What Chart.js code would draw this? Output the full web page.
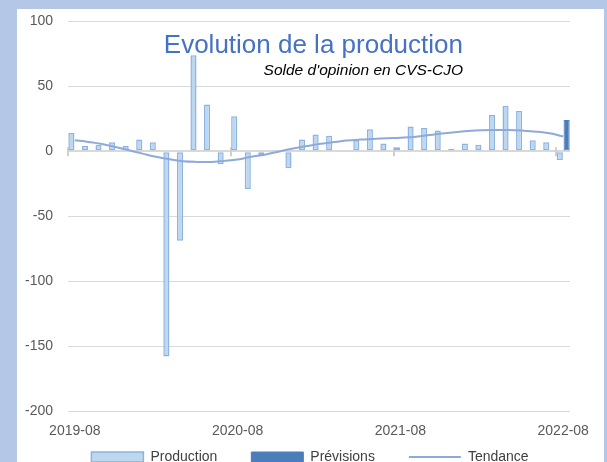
<!DOCTYPE html>
<html lang="fr">
<head>
  <meta charset="UTF-8">
  <title>Evolution de la production</title>
  <script src="https://cdn.jsdelivr.net/npm/chart.js@4.4.0/dist/chart.umd.min.js"></script>
  <style>
    html, body { margin: 0; padding: 0; width: 607px; height: 462px; overflow: hidden; background: #B4C7E7; position: relative; }
    .cadre { position: absolute; left: 17px; top: 9px; width: 587px; height: 460px; background: #fff; }
    #productionChart { position: absolute; left: 2px; top: -2px; }
  </style>
</head>
<body>
  <div class="cadre"></div>
  <canvas id="productionChart" width="608" height="476"></canvas>

  <script>
    // --- Données ---
    const mois = [
      '2019-08', '2019-09', '2019-10', '2019-11', '2019-12',
      '2020-01', '2020-02', '2020-03', '2020-04', '2020-05', '2020-06', '2020-07',
      '2020-08', '2020-09', '2020-10', '2020-11', '2020-12',
      '2021-01', '2021-02', '2021-03', '2021-04', '2021-05', '2021-06', '2021-07',
      '2021-08', '2021-09', '2021-10', '2021-11', '2021-12',
      '2022-01', '2022-02', '2022-03', '2022-04', '2022-05', '2022-06', '2022-07',
      '2022-08'
    ];
    const production = [
      14, 4, 5, 7, 4, 9, 7, -158, -69, 74, 36, -10,
      27, -29, -3, 1, -13, 9, 13, 12, 1, 8.5, 17, 6,
      3, 19, 18, 16, 2, 6, 5, 28, 35, 31, 8.5, 7,
      -7
    ];
    const previsions = [
      null, null, null, null, null, null, null, null, null, null, null, null,
      null, null, null, null, null, null, null, null, null, null, null, null,
      null, null, null, null, null, null, null, null, null, null, null, null,
      24
    ];
    const tendance = [
      8.5, 7.2, 5.6, 3.3, 0.8, -1.8, -4.3, -6.2, -7.7, -8.2, -8.2, -7.4,
      -6.4, -4.3, -2.6, -0.3, 2, 3.8, 5.6, 6.9, 8.2, 9, 9.5, 10,
      10.4, 11, 12.3, 13.6, 14.6, 15.6, 16.2, 16.4, 16.4, 15.9, 15.1, 13.8,
      11.5
    ];
    const ticksY = [-200, -150, -100, -50, 0, 50, 100];
    const titre = 'Evolution de la production';
    const sousTitre = "Solde d'opinion en CVS-CJO";

    Chart.defaults.font.family = "'Liberation Sans', Arial, sans-serif";
    Chart.defaults.animation = false;

    // Titre posé dans la zone du graphique (comme dans Excel)
    const titrePlugin = {
      id: 'titre',
      afterDatasetsDraw(chart) {
        const ctx = chart.ctx;
        ctx.save();
        ctx.textAlign = 'right';
        ctx.textBaseline = 'alphabetic';
        ctx.fillStyle = '#4472C4';
        ctx.font = "26px 'Liberation Sans', Arial, sans-serif";
        ctx.fillText(titre, 461, 55);
        ctx.fillStyle = '#000';
        ctx.font = "italic 15.5px 'Liberation Sans', Arial, sans-serif";
        ctx.fillText(sousTitre, 461, 77);
        ctx.restore();
      }
    };

    // Petites graduations croisant l'axe à zéro, tous les 12 mois
    const graduations = {
      id: 'graduations',
      beforeDatasetsDraw(chart) {
        const x = chart.scales.x, y = chart.scales.y;
        const demi = (x.getPixelForValue(1) - x.getPixelForValue(0)) / 2;
        const y0 = y.getPixelForValue(0);
        const ctx = chart.ctx;
        ctx.save();
        ctx.strokeStyle = '#D0D0D0';
        ctx.lineWidth = 2;
        for (let i = 0; i < mois.length; i += 12) {
          const px = Math.round(x.getPixelForValue(i) - demi);
          ctx.beginPath();
          ctx.moveTo(px, y0 - 4);
          ctx.lineTo(px, y0 + 5);
          ctx.stroke();
        }
        ctx.restore();
      }
    };

    const ctx = document.getElementById('productionChart').getContext('2d');
    new Chart(ctx, {
      type: 'bar',
      data: {
        labels: mois,
        datasets: [
          {
            type: 'bar',
            label: 'Production',
            data: production,
            backgroundColor: '#BDD7EE',
            borderColor: '#8DB3E2',
            borderWidth: 1.5,
            borderSkipped: false,
            barPercentage: 0.9,
            categoryPercentage: 1,
            order: 2
          },
          {
            type: 'bar',
            label: 'Prévisions',
            data: previsions,
            backgroundColor: '#4A7EBB',
            borderColor: '#4A7EBB',
            borderWidth: 1,
            borderSkipped: false,
            barPercentage: 0.9,
            categoryPercentage: 1,
            order: 2
          },
          {
            type: 'line',
            label: 'Tendance',
            data: tendance,
            borderColor: '#8EA9DB',
            backgroundColor: '#8EA9DB',
            borderWidth: 2,
            pointRadius: 0,
            tension: 0.4,
            fill: false,
            order: 1
          }
        ]
      },
      options: {
        responsive: false,
        layout: { padding: { left: 8, right: 0, top: 12, bottom: 0 } },
        plugins: {
          tooltip: { enabled: false },
          legend: {
            position: 'bottom',
            labels: {
              usePointStyle: true,
              pointStyleWidth: 52,
              boxHeight: 10,
              padding: 34,
              color: '#404040',
              font: { size: 14 },
              sort: (a, b) => a.datasetIndex - b.datasetIndex,
              generateLabels(chart) {
                const items = Chart.defaults.plugins.legend.labels.generateLabels(chart);
                items.forEach(it => { it.pointStyle = it.datasetIndex === 2 ? 'line' : 'rect'; });
                return items;
              }
            }
          }
        },
        scales: {
          x: {
            offset: true,
            grid: { display: false },
            border: { display: false },
            ticks: {
              autoSkip: false,
              maxRotation: 0,
              mirror: true,
              padding: -28.4,
              color: '#595959',
              font: { size: 14 },
              callback: (v, i) => (i % 12 === 0 ? mois[i] : '')
            },
            afterFit(s) { s.height = 5; }
          },
          y: {
            min: ticksY[0],
            max: ticksY[ticksY.length - 1],
            afterBuildTicks(s) { s.ticks = ticksY.map(v => ({ value: v })); },
            grid: {
              color: '#D9D9D9',
              lineWidth: c => (c.tick && c.tick.value === 0 ? 2 : 1),
              drawTicks: false
            },
            border: { display: false },
            ticks: { padding: 15, color: '#595959', font: { size: 14 } },
            afterFit(s) { s.width = 58; }
          },
          y2: {
            type: 'linear',
            position: 'right',
            grid: { display: false },
            border: { display: false },
            ticks: { display: false },
            afterFit(s) { s.width = 40; }
          }
        }
      },
      plugins: [graduations, titrePlugin]
    });
  </script>
</body>
</html>
